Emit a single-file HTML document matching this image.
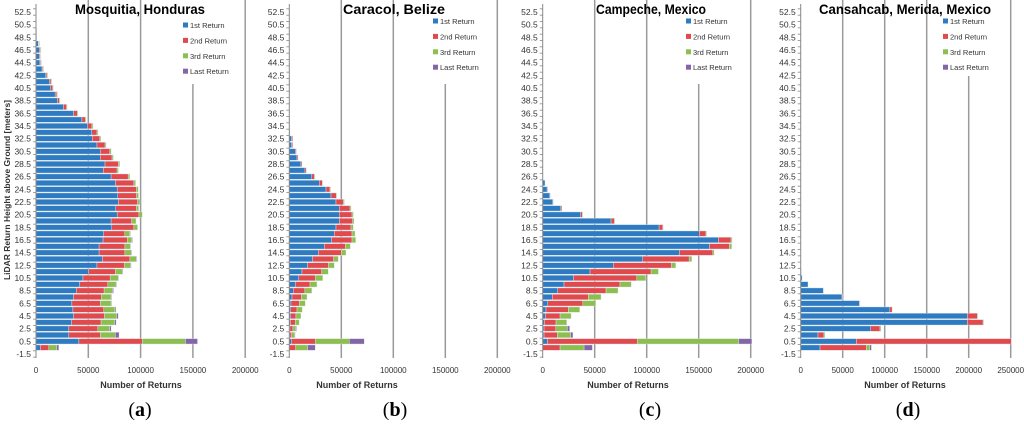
<!DOCTYPE html>
<html><head><meta charset="utf-8">
<style>
html,body{margin:0;padding:0;background:#fff;}
svg{display:block;font-family:"Liberation Sans",sans-serif;}
</style></head>
<body>
<svg id="chart" width="1024" height="424" viewBox="0 0 1024 424" xmlns="http://www.w3.org/2000/svg"></svg>
<script>
// categories, top (52.5) to bottom (-1.5)
const heights = [52.5,51.5,50.5,49.5,48.5,47.5,46.5,45.5,44.5,43.5,42.5,41.5,40.5,39.5,38.5,37.5,36.5,35.5,34.5,33.5,32.5,31.5,30.5,29.5,28.5,27.5,26.5,25.5,24.5,23.5,22.5,21.5,20.5,19.5,18.5,17.5,16.5,15.5,14.5,13.5,12.5,11.5,10.5,9.5,8.5,7.5,6.5,5.5,4.5,3.5,2.5,1.5,0.5,-0.5,-1.5];
const yTickLabels = ["52.5","50.5","48.5","46.5","44.5","42.5","40.5","38.5","36.5","34.5","32.5","30.5","28.5","26.5","24.5","22.5","20.5","18.5","16.5","14.5","12.5","10.5","8.5","6.5","4.5","2.5","0.5","-1.5"];
const seriesNames = ["1st Return","2nd Return","3rd Return","Last Return"];
const xTicksA = [0,50000,100000,150000,200000];
const xTicksD = [0,50000,100000,150000,200000,250000];
// values in thousands of returns
const a1 = [0,0,0,0.3,0.6,2.2,3.2,3.2,3.8,5.8,9.3,12.8,14.1,18.3,20.5,26.3,35.9,43.9,49.4,53.2,53.8,58.3,61.5,61.5,66.0,64.4,71.8,76.0,77.6,78.2,78.8,76.3,77.6,71.8,72.4,64.7,64.1,60.3,60.3,63.5,58.3,50.3,44.9,41.7,38.5,35.9,34.3,35.3,35.9,34.0,31.4,31.4,41.0,4.2,0];
const a2 = [0,0,0,0,0,0.6,1.0,0.8,0.8,0.9,1.2,1.6,1.9,1.6,1.9,2.9,3.5,3.2,4.1,5.1,7.1,7.7,9.0,11.2,12.8,13.1,16.3,17.6,18.3,17.9,18.3,19.6,20.8,19.6,21.2,20.2,23.1,24.7,24.7,26.3,26.3,25.6,26.0,26.9,26.6,26.6,27.2,29.5,29.5,28.2,27.6,30.1,60.6,8.0,0];
const a3 = [0,0,0,0,0,0.3,0.3,0.3,0.3,0.4,0.6,0.6,0.6,0.6,0.6,0.6,0.8,0.8,1,1,1,1,1.3,1.3,1.3,1.3,1.6,1.6,1.9,1.9,2.2,2.2,3.2,4.2,3.5,4.8,4.5,5.1,6.1,6.1,5.8,6.7,7.7,8.0,8.0,9.3,10.3,10.6,11.9,13.1,11.5,14.4,41.3,7.7,0];
const a4 = [0,0,0,0,0,0,0,0,0,0,0,0,0,0,0,0,0,0,0,0,0,0,0,0,0,0,0,0,0,0,0,0,0,0,0,0.3,0.3,0.3,0.3,0.3,0.3,0.3,0.3,0.3,1.0,0.6,0.6,1.0,1.3,1.3,1.3,3.5,11.5,1.9,0];
const b1 = [0,0,0,0,0,0,0,0,0,0,0,0,0,0,0,0,0,0,0,0.6,2.2,2.2,5.8,7.4,11.2,15.1,21.5,28.8,35.3,40.1,44.9,48.1,48.1,48.1,44.9,43.3,40.7,33.7,27.9,22.4,17.6,12.2,9.0,5.8,3.8,2.6,1.6,1.3,1.3,1.0,0.6,0.6,1.9,0,0];
const b2 = [0,0,0,0,0,0,0,0,0,0,0,0,0,0,0,0,0,0,0,0,1.0,1.0,1.0,1.0,1.0,1.3,2.6,2.9,3.8,5.1,7.1,10.3,12.2,12.8,14.4,17.0,19.6,20.2,22.1,20.2,19.9,18.9,16.0,14.1,11.2,9.0,8.0,6.1,5.1,4.8,2.9,1.6,23.1,6.1,0];
const b3 = [0,0,0,0,0,0,0,0,0,0,0,0,0,0,0,0,0,0,0,0,0,0,0,0,0,0,0.6,0.6,0.3,0.3,1.0,1.0,1.3,1.3,2.2,2.9,3.5,4.8,4.5,4.5,5.8,6.4,7.1,6.7,6.7,5.4,5.8,5.1,4.8,3.8,2.9,2.9,32.7,11.5,0];
const b4 = [0,0,0,0,0,0,0,0,0,0,0,0,0,0,0,0,0,0,0,0,0,0,0,0,0,0,0,0,0,0,0,0,0,0,0,0,0,0,0,0,0,0,0,0,0,0,0,0,0,0,0.3,0.3,14.4,7.4,0];
const c1 = [0,0,0,0,0,0,0,0,0,0,0,0,0,0,0,0,0,0,0,0,0,0,0,0,0,0,0,2.2,4.2,6.7,9.6,17.3,36.5,65.7,111.9,150.6,168.9,160.3,131.4,96.2,67.9,45.5,29.5,20.5,14.4,9.3,4.8,3.2,2.6,1.6,1.3,1.3,4.5,0,0];
const c2 = [0,0,0,0,0,0,0,0,0,0,0,0,0,0,0,0,0,0,0,0,0,0,0,0,0,0,0,0,0.6,0.6,0.6,1.0,1.6,3.2,3.5,6.4,12.2,19.2,32.1,44.6,55.8,58.7,60.9,53.8,46.5,34.6,33.7,21.5,14.1,11.2,11.2,12.8,86.5,16.7,0];
const c3 = [0,0,0,0,0,0,0,0,0,0,0,0,0,0,0,0,0,0,0,0,0,0,0,0,0,0,0,0,0,0,0,0,0.3,0.3,0.3,0.6,1.0,2.2,1.3,2.6,4.2,7.1,8.7,10.9,11.5,12.2,12.5,10.9,10.6,10.3,11.2,12.8,97.4,23.1,0];
const c4 = [0,0,0,0,0,0,0,0,0,0,0,0,0,0,0,0,0,0,0,0,0,0,0,0,0,0,0,0,0,0,0,0,0,0,0,0,0,0,0,0,0,0,0,0,0,0,0,0,0,0,2.2,2.2,14.1,8.0,0];
const d1 = [0,0,0,0,0,0,0,0,0,0,0,0,0,0,0,0,0,0,0,0,0,0,0,0,0,0,0,0,0,0,0,0,0,0,0,0,0,0,0,0,0,0.4,1.6,8.7,27.0,49.2,69.8,106,198.4,198.4,83.3,20.6,66.3,23.0,0];
const d2 = [0,0,0,0,0,0,0,0,0,0,0,0,0,0,0,0,0,0,0,0,0,0,0,0,0,0,0,0,0,0,0,0,0,0,0,0,0,0,0,0,0,0,0,0,0,0.4,0.4,2.8,11.9,18.7,11.1,7.1,184.5,55.2,0];
const d3 = [0,0,0,0,0,0,0,0,0,0,0,0,0,0,0,0,0,0,0,0,0,0,0,0,0,0,0,0,0,0,0,0,0,0,0,0,0,0,0,0,0,0,0,0,0,0,0,0,0.4,0.8,1.2,1.2,0,4.0,0];
const d4 = [0,0,0,0,0,0,0,0,0,0,0,0,0,0,0,0,0,0,0,0,0,0,0,0,0,0,0,0,0,0,0,0,0,0,0,0,0,0,0,0,0,0,0,0,0,0,0,0,0,0,0,0,0,2.0,0];

const NS = "http://www.w3.org/2000/svg";
const svg = document.getElementById("chart");
const colors = ["#2e7bc2","#e04a4d","#8dbf4e","#8466a6"];
function mk(tag, attrs, parent){ const e=document.createElementNS(NS,tag); for(const k in attrs) e.setAttribute(k,attrs[k]); (parent||svg).appendChild(e); return e; }
function yScale(v){ return 12 + (52.5 - v) * 6.333; }

const panels = [
 {id:"a", title:"Mosquitia, Honduras", tx:140, tw:130, x0:36, pp:52.3, max:200000, ticks:xTicksA, shortAt:150000, shortY:84, series:[a1,a2,a3,a4], leg:[183,25], xt:141, lbl:140},
 {id:"b", title:"Caracol, Belize", tx:394, tw:102, x0:289.3, pp:52, max:200000, ticks:xTicksA, shortAt:150000, shortY:84, series:[b1,b2,b3,b4], leg:[433,21], xt:357, lbl:395},
 {id:"c", title:"Campeche, Mexico", tx:651, tw:110, x0:542.7, pp:52, max:200000, ticks:xTicksA, shortAt:150000, shortY:84, series:[c1,c2,c3,c4], leg:[686,21], xt:628, lbl:650},
 {id:"d", title:"Cansahcab, Merida, Mexico", tx:905, tw:172, x0:800.7, pp:42, max:250000, ticks:xTicksD, shortAt:200000, shortY:76, series:[d1,d2,d3,d4], leg:[943,21], xt:905, lbl:908}
];

panels.forEach(p=>{
  const g = mk("g",{});
  
  
  const xScale = v => p.x0 + v / 50000 * p.pp;
  const right = xScale(p.max);
  // gridlines
  p.ticks.forEach(t=>{
    if(t===0) return;
    const top = t===p.shortAt ? p.shortY : 0;
    const l = mk("line",{x1:xScale(t),x2:xScale(t),y1:top,y2:358,stroke:"#9a9a9a","stroke-width":1.5},g);
    
    
  });
  // clip
  const cp = mk("clipPath",{id:"clip-"+p.id},g);
  mk("rect",{x:p.x0,y:0,width:right-p.x0+1,height:360},cp);
  const bars = mk("g",{"clip-path":"url(#clip-"+p.id+")"},g);
  
  
  heights.forEach((h,i)=>{
    let acc = 0;
    p.series.forEach((s,si)=>{
      const v = s[i]*1000;
      if(v<=0) return;
      const x1 = xScale(acc), x2 = xScale(acc+v);
      const r = mk("rect",{x:x1,y:yScale(h)-2.7,width:Math.max(x2-x1,0.6),height:5.4,fill:colors[si],stroke:"#dfe8f2","stroke-width":0.4},bars);
      
      
      acc += v;
    });
  });
  // axis
  const ax = mk("line",{x1:p.x0,x2:p.x0,y1:4,y2:358,stroke:"#888","stroke-width":1},g);
  
  
  for(let k=0;k<=55;k++){
    const yy = yScale(53 - k);
    mk("line",{x1:p.x0-3,x2:p.x0,y1:yy,y2:yy,stroke:"#888","stroke-width":0.8},g);
  }
  yTickLabels.forEach(lab=>{
    const t = mk("text",{x:p.x0-5,y:yScale(parseFloat(lab))+3,"text-anchor":"end","font-size":8.5,fill:"#333"},g);
    t.textContent = lab;
    
    
  });
  p.ticks.forEach(tv=>{
    const t = mk("text",{x:xScale(tv),y:373,"text-anchor":"middle","font-size":8,fill:"#333"},g);
    t.textContent = String(tv);
    
    
  });
  const xt = mk("text",{x:p.xt,y:388,"text-anchor":"middle","font-size":9,"font-weight":"bold",fill:"#333"},g);
  xt.textContent = "Number of Returns";
  
  
  const ti = mk("text",{x:p.tx,y:14,"text-anchor":"middle","font-size":14,"font-weight":"bold",fill:"#000",textLength:p.tw,lengthAdjust:"spacingAndGlyphs"},g);
  ti.textContent = p.title;
  
  
  const pl = mk("text",{x:p.lbl,y:416,"text-anchor":"middle","font-size":20,"font-family":"Liberation Serif, serif",fill:"#000"},g);
  pl.innerHTML = '(<tspan font-weight="bold">'+p.id+'</tspan>)';
  
  
  seriesNames.forEach((n,si)=>{
    const lg = mk("g",{},g);
    
    
    const yy = p.leg[1] + si*15.4;
    mk("rect",{x:p.leg[0],y:yy-2.5,width:5,height:5,fill:colors[si]},lg);
    const t = mk("text",{x:p.leg[0]+7,y:yy+3,"font-size":7.5,fill:"#333"},lg);
    t.textContent = n;
  });
});
const yt = mk("text",{x:0,y:0,transform:"translate(10,190) rotate(-90)","text-anchor":"middle","font-size":8.5,"font-weight":"bold",fill:"#333",textLength:180,lengthAdjust:"spacingAndGlyphs"});
yt.textContent = "LiDAR Return Height above Ground [meters]";


</script>
</body></html>
